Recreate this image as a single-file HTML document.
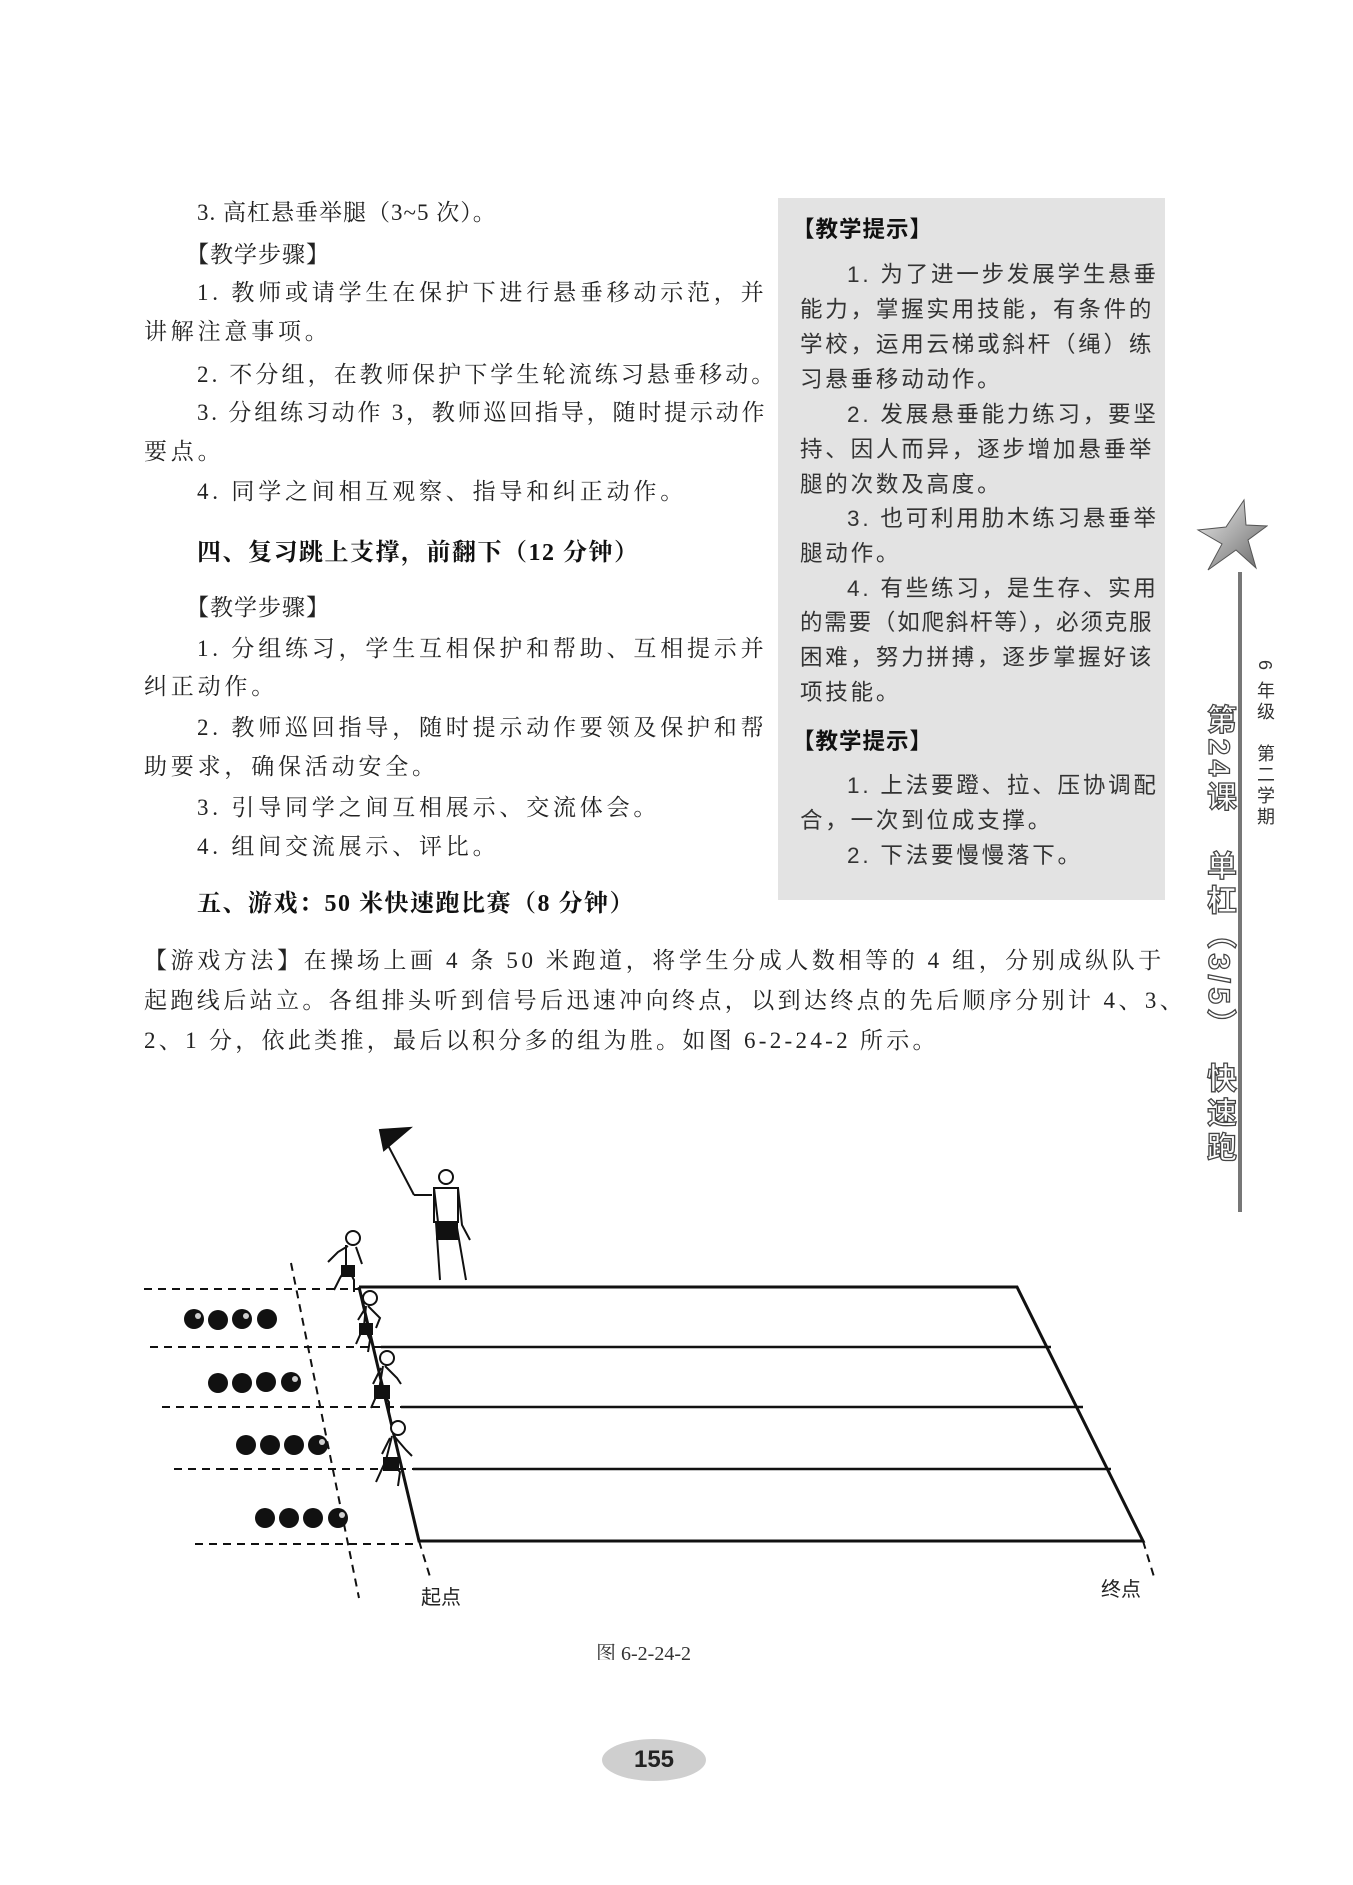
<!DOCTYPE html>
<html><head><meta charset="utf-8"><style>
html,body{margin:0;padding:0;background:#fff;}
body{width:1353px;height:1885px;position:relative;overflow:hidden;}
.t{position:absolute;font-family:"Liberation Serif","Noto Serif CJK SC",serif;font-size:23px;color:#222;white-space:nowrap;line-height:1;}
.h{font-weight:bold;font-size:24px;color:#111;}
.b{position:absolute;font-family:"Liberation Sans","Noto Sans CJK SC",sans-serif;font-size:22.5px;color:#333;white-space:nowrap;line-height:1;}
.bh{font-weight:bold;color:#111;}
#box{position:absolute;left:778px;top:198px;width:387px;height:702px;background:#e3e3e3;}
.vr{position:absolute;writing-mode:vertical-rl;font-family:"Liberation Sans","Noto Sans CJK SC",sans-serif;}
</style></head><body>
<div id="box"></div>

<div class="t" style="left:197px;top:201px;letter-spacing:1px">3. 高杠悬垂举腿（3~5 次）。</div>
<div class="t" style="left:186px;top:243px;letter-spacing:1px">【教学步骤】</div>
<div class="t" style="left:197px;top:281px;letter-spacing:3.8px">1. 教师或请学生在保护下进行悬垂移动示范，并</div>
<div class="t" style="left:144px;top:320px;letter-spacing:3.8px">讲解注意事项。</div>
<div class="t" style="left:197px;top:363px;letter-spacing:3.1px">2. 不分组，在教师保护下学生轮流练习悬垂移动。</div>
<div class="t" style="left:197px;top:401px;letter-spacing:2.8px">3. 分组练习动作 3，教师巡回指导，随时提示动作</div>
<div class="t" style="left:144px;top:440px;letter-spacing:3.8px">要点。</div>
<div class="t" style="left:197px;top:480px;letter-spacing:3.8px">4. 同学之间相互观察、指导和纠正动作。</div>
<div class="t h" style="left:197px;top:541px;letter-spacing:1.5px">四、复习跳上支撑，前翻下（12 分钟）</div>
<div class="t" style="left:186px;top:596px;letter-spacing:1px">【教学步骤】</div>
<div class="t" style="left:197px;top:637px;letter-spacing:3.8px">1. 分组练习，学生互相保护和帮助、互相提示并</div>
<div class="t" style="left:144px;top:675px;letter-spacing:3.8px">纠正动作。</div>
<div class="t" style="left:197px;top:716px;letter-spacing:3.8px">2. 教师巡回指导，随时提示动作要领及保护和帮</div>
<div class="t" style="left:144px;top:755px;letter-spacing:3.8px">助要求，确保活动安全。</div>
<div class="t" style="left:197px;top:796px;letter-spacing:3.8px">3. 引导同学之间互相展示、交流体会。</div>
<div class="t" style="left:197px;top:835px;letter-spacing:3.8px">4. 组间交流展示、评比。</div>
<div class="t h" style="left:197px;top:892px;letter-spacing:1.5px">五、游戏：50 米快速跑比赛（8 分钟）</div>
<div class="t" style="left:144px;top:949px;letter-spacing:3.6px">【游戏方法】在操场上画 4 条 50 米跑道，将学生分成人数相等的 4 组，分别成纵队于</div>
<div class="t" style="left:144px;top:989px;letter-spacing:3.4px">起跑线后站立。各组排头听到信号后迅速冲向终点，以到达终点的先后顺序分别计 4、3、</div>
<div class="t" style="left:144px;top:1029px;letter-spacing:3.3px">2、1 分，依此类推，最后以积分多的组为胜。如图 6-2-24-2 所示。</div>

<div class="b bh" style="left:792px;top:219px;letter-spacing:1px">【教学提示】</div>
<div class="b" style="left:847px;top:264px;letter-spacing:2.8px">1. 为了进一步发展学生悬垂</div>
<div class="b" style="left:800px;top:299px;letter-spacing:2.8px">能力，掌握实用技能，有条件的</div>
<div class="b" style="left:800px;top:334px;letter-spacing:2.8px">学校，运用云梯或斜杆（绳）练</div>
<div class="b" style="left:800px;top:369px;letter-spacing:2.8px">习悬垂移动动作。</div>
<div class="b" style="left:847px;top:404px;letter-spacing:2.8px">2. 发展悬垂能力练习，要坚</div>
<div class="b" style="left:800px;top:439px;letter-spacing:2.8px">持、因人而异，逐步增加悬垂举</div>
<div class="b" style="left:800px;top:474px;letter-spacing:2.8px">腿的次数及高度。</div>
<div class="b" style="left:847px;top:508px;letter-spacing:2.8px">3. 也可利用肋木练习悬垂举</div>
<div class="b" style="left:800px;top:543px;letter-spacing:2.8px">腿动作。</div>
<div class="b" style="left:847px;top:578px;letter-spacing:2.8px">4. 有些练习，是生存、实用</div>
<div class="b" style="left:800px;top:612px;letter-spacing:1.8px">的需要（如爬斜杆等），必须克服</div>
<div class="b" style="left:800px;top:647px;letter-spacing:2.8px">困难，努力拼搏，逐步掌握好该</div>
<div class="b" style="left:800px;top:682px;letter-spacing:2.8px">项技能。</div>
<div class="b bh" style="left:792px;top:731px;letter-spacing:1px">【教学提示】</div>
<div class="b" style="left:847px;top:775px;letter-spacing:2.8px">1. 上法要蹬、拉、压协调配</div>
<div class="b" style="left:800px;top:810px;letter-spacing:2.8px">合，一次到位成支撑。</div>
<div class="b" style="left:847px;top:845px;letter-spacing:2.8px">2. 下法要慢慢落下。</div>

<!-- sidebar -->
<svg style="position:absolute;left:1196px;top:498px" width="72" height="76" viewBox="0 0 72 76">
<defs><linearGradient id="sg" x1="0" y1="0" x2="1" y2="1"><stop offset="0" stop-color="#eee"/><stop offset="1" stop-color="#666"/></linearGradient></defs>
<polygon points="48,2 50,27 71,28 52,42 60,70 40,52 12,72 26,46 2,32 30,29" fill="url(#sg)" stroke="#555" stroke-width="1"/>
</svg>
<div style="position:absolute;left:1238px;top:572px;width:4px;height:640px;background:#777"></div>
<div class="vr" style="left:1252px;top:660px;font-size:18px;color:#333;letter-spacing:3px">6 年级　第二学期</div>
<div class="vr" style="left:1200px;top:704px;font-size:30px;font-weight:bold;color:#fff;-webkit-text-stroke:1.3px #444;line-height:36px;letter-spacing:4.5px">第24课　单杠（3/5）　快速跑</div>

<!-- figure -->
<svg style="position:absolute;left:0;top:1100px" width="1353" height="560" viewBox="0 1100 1353 560">
<g stroke="#111" fill="none">
<polyline points="359,1287 1017,1287 1143,1541 419,1541 359,1287" stroke-width="3"/>
<line x1="381" y1="1347" x2="1051" y2="1347" stroke-width="2.5"/>
<line x1="401" y1="1407" x2="1083" y2="1407" stroke-width="2.5"/>
<line x1="413" y1="1469" x2="1111" y2="1469" stroke-width="2.5"/>
<g stroke-dasharray="8,6" stroke-width="2">
<line x1="144" y1="1289" x2="359" y2="1289"/>
<line x1="150" y1="1347" x2="381" y2="1347"/>
<line x1="162" y1="1407" x2="401" y2="1407"/>
<line x1="174" y1="1469" x2="413" y2="1469"/>
<line x1="195" y1="1544" x2="419" y2="1544"/>
<line x1="291" y1="1263" x2="359" y2="1598"/>
<line x1="419" y1="1541" x2="431" y2="1580"/>
<line x1="1143" y1="1541" x2="1155" y2="1580"/>
</g>
</g>
<g fill="#111">
<circle cx="194" cy="1319" r="10"/><circle cx="218" cy="1320" r="10"/><circle cx="242" cy="1319" r="10"/><circle cx="267" cy="1319" r="10"/>
<circle cx="218" cy="1383" r="10"/><circle cx="242" cy="1383" r="10"/><circle cx="266" cy="1382" r="10"/><circle cx="291" cy="1382" r="10"/>
<circle cx="246" cy="1445" r="10"/><circle cx="270" cy="1445" r="10"/><circle cx="294" cy="1445" r="10"/><circle cx="318" cy="1445" r="10"/>
<circle cx="265" cy="1518" r="10"/><circle cx="289" cy="1518" r="10"/><circle cx="313" cy="1518" r="10"/><circle cx="338" cy="1518" r="10"/>
</g>
<g fill="#fff" opacity="0.8">
<circle cx="198" cy="1316" r="3"/><circle cx="246" cy="1316" r="3"/><circle cx="295" cy="1379" r="3"/><circle cx="322" cy="1442" r="3"/><circle cx="342" cy="1515" r="3"/>
</g>
<!-- flag person -->
<g stroke="#111" stroke-width="2" fill="none">
<line x1="380" y1="1130" x2="414" y2="1195"/>
<polygon points="380,1130 410,1128 384,1150" fill="#111"/>
<circle cx="446" cy="1177" r="7" fill="#fff"/>
<path d="M414,1195 L432,1195 M434,1188 L438,1222 M458,1188 L462,1225 L470,1240"/>
<rect x="434" y="1188" width="24" height="34"/>
<path d="M436,1222 L440,1280 M456,1222 L466,1280"/>
</g>
<rect x="436" y="1222" width="22" height="18" fill="#111"/>
<!-- runners -->
<g stroke="#111" stroke-width="2" fill="none">
<g transform="translate(318,1230)"><circle cx="35" cy="8" r="7" fill="#fff"/><path d="M30,16 L20,22 L10,32 M28,15 L28,38 L22,48 L16,60 M30,38 L36,50 L36,62 M38,17 L44,34"/><rect x="24" y="36" width="12" height="10" fill="#111"/></g>
<g transform="translate(340,1290)"><circle cx="30" cy="8" r="7" fill="#fff"/><path d="M26,16 L24,36 L16,54 M24,36 L30,50 L28,62 M28,16 L40,28 L36,38 M26,17 L18,30"/><rect x="20" y="34" width="12" height="10" fill="#111"/></g>
<g transform="translate(355,1350)"><circle cx="32" cy="8" r="7" fill="#fff"/><path d="M28,16 L24,40 L16,58 M26,40 L34,52 L34,64 M30,16 L42,28 L46,34 M26,18 L18,34"/><rect x="20" y="36" width="14" height="12" fill="#111"/></g>
<g transform="translate(362,1420)"><circle cx="36" cy="8" r="7" fill="#fff"/><path d="M30,16 L24,40 L14,62 M28,40 L38,52 L36,66 M32,16 L44,30 L50,36 M28,18 L20,34"/><rect x="22" y="38" width="14" height="12" fill="#111"/></g>
</g>
<text x="421" y="1604" font-family="Liberation Sans,Noto Sans CJK SC,sans-serif" font-size="20" fill="#222">起点</text>
<text x="1101" y="1596" font-family="Liberation Sans,Noto Sans CJK SC,sans-serif" font-size="20" fill="#222">终点</text>
<text x="596" y="1660" font-family="Liberation Serif,Noto Serif CJK SC,serif" font-size="20" fill="#333">图 6-2-24-2</text>
</svg>

<div style="position:absolute;left:602px;top:1739px;width:104px;height:42px;border-radius:50%;background:#cfcfcf;text-align:center;line-height:42px;font-family:'Liberation Sans',sans-serif;font-weight:bold;font-size:24px;color:#222">155</div>
</body></html>
